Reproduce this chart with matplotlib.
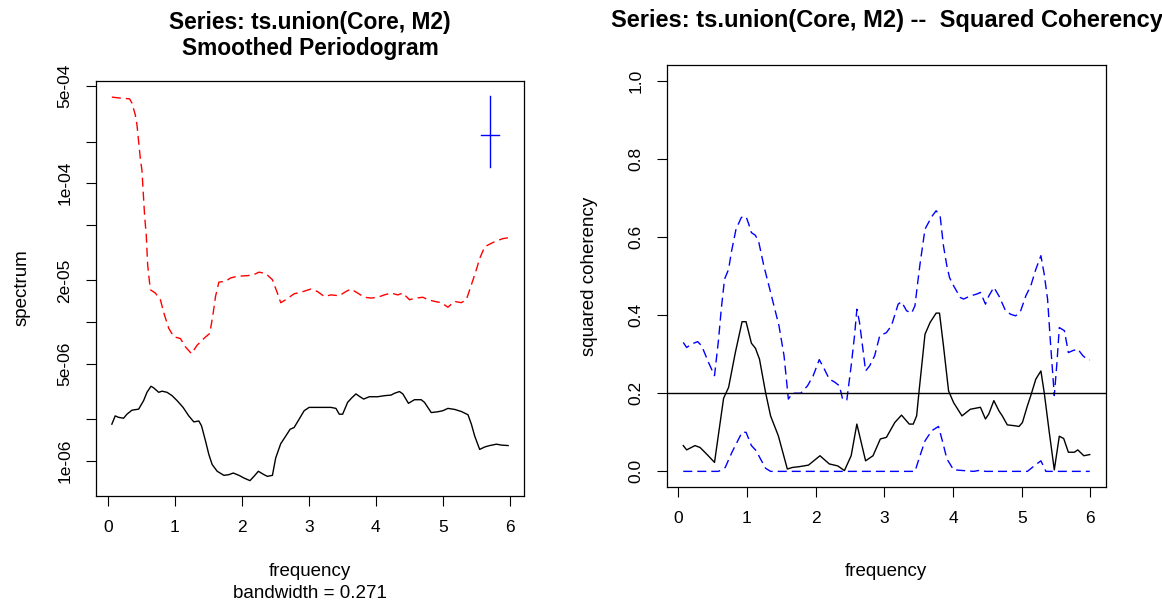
import matplotlib
matplotlib.use("Agg")
import matplotlib.pyplot as plt

plt.rcParams['font.family'] = ['Liberation Sans', 'DejaVu Sans']
plt.rcParams['lines.scale_dashes'] = False

# --- left panel: smoothed periodogram (log scale) ---
core_freq = [0.062, 0.112, 0.162, 0.237, 0.287, 0.362, 0.462, 0.536, 0.586, 0.646,
             0.686, 0.761, 0.811, 0.886, 0.961, 1.035, 1.125, 1.210, 1.285, 1.360,
             1.400, 1.460, 1.510, 1.559, 1.634, 1.734, 1.809, 1.874, 1.959, 2.033,
             2.123, 2.183, 2.248, 2.333, 2.383, 2.458, 2.507, 2.582, 2.657, 2.722,
             2.782, 2.857, 2.932, 3.006, 3.331, 3.406, 3.456, 3.506, 3.580, 3.640,
             3.705, 3.755, 3.820, 3.905, 4.029, 4.129, 4.229, 4.279, 4.354, 4.404,
             4.488, 4.578, 4.678, 4.728, 4.828, 4.928, 5.002, 5.077, 5.177, 5.277,
             5.377, 5.427, 5.477, 5.551, 5.626, 5.701, 5.801, 5.876, 5.976]
core_spec = [1.84e-6, 2.11e-6, 2.06e-6, 2.03e-6, 2.17e-6, 2.32e-6, 2.36e-6, 2.72e-6, 3.12e-6, 3.45e-6,
             3.36e-6, 3.12e-6, 3.18e-6, 3.12e-6, 2.95e-6, 2.72e-6, 2.43e-6, 2.11e-6, 1.91e-6, 1.94e-6,
             1.79e-6, 1.39e-6, 1.11e-6, 9.42e-7, 8.42e-7, 7.87e-7, 7.96e-7, 8.18e-7, 7.87e-7, 7.53e-7,
             7.21e-7, 7.74e-7, 8.42e-7, 7.96e-7, 7.74e-7, 7.87e-7, 1.05e-6, 1.33e-6, 1.51e-6, 1.69e-6,
             1.74e-6, 2.00e-6, 2.30e-6, 2.43e-6, 2.43e-6, 2.39e-6, 2.17e-6, 2.17e-6, 2.64e-6, 2.84e-6,
             3.04e-6, 2.92e-6, 2.79e-6, 2.90e-6, 2.90e-6, 2.95e-6, 2.98e-6, 3.07e-6, 3.16e-6, 3.04e-6,
             2.60e-6, 2.76e-6, 2.76e-6, 2.64e-6, 2.23e-6, 2.26e-6, 2.30e-6, 2.39e-6, 2.35e-6, 2.27e-6,
             2.15e-6, 1.84e-6, 1.51e-6, 1.21e-6, 1.26e-6, 1.29e-6, 1.32e-6, 1.30e-6, 1.29e-6]

m2_freq = [0.062, 0.187, 0.327, 0.362, 0.412, 0.437, 0.462, 0.487, 0.511, 0.536,
           0.551, 0.576, 0.596, 0.636, 0.711, 0.786, 0.846, 0.911, 0.986, 1.085,
           1.160, 1.250, 1.335, 1.435, 1.524, 1.574, 1.609, 1.659, 1.759, 1.834,
           1.934, 2.083, 2.183, 2.258, 2.358, 2.458, 2.532, 2.582, 2.657, 2.782,
           2.882, 3.031, 3.131, 3.231, 3.331, 3.456, 3.555, 3.630, 3.730, 3.830,
           3.930, 4.029, 4.129, 4.229, 4.329, 4.404, 4.503, 4.603, 4.703, 4.778,
           4.878, 4.978, 5.077, 5.177, 5.277, 5.352, 5.402, 5.452, 5.502, 5.551,
           5.626, 5.726, 5.801, 5.901, 5.976]
m2_spec = [4.18e-4, 4.11e-4, 4.06e-4, 3.78e-4, 3.11e-4, 2.63e-4, 1.99e-4, 1.51e-4, 1.24e-4, 7.71e-5,
           5.83e-5, 4.18e-5, 2.60e-5, 1.71e-5, 1.62e-5, 1.45e-5, 1.13e-5, 9.02e-6, 7.84e-6, 7.62e-6,
           6.63e-6, 5.93e-6, 6.82e-6, 7.62e-6, 8.30e-6, 1.16e-5, 1.53e-5, 1.94e-5, 1.97e-5, 2.08e-5,
           2.14e-5, 2.16e-5, 2.20e-5, 2.29e-5, 2.24e-5, 2.02e-5, 1.62e-5, 1.38e-5, 1.45e-5, 1.60e-5,
           1.64e-5, 1.73e-5, 1.66e-5, 1.53e-5, 1.57e-5, 1.55e-5, 1.66e-5, 1.73e-5, 1.62e-5, 1.51e-5,
           1.49e-5, 1.51e-5, 1.57e-5, 1.62e-5, 1.57e-5, 1.62e-5, 1.45e-5, 1.49e-5, 1.51e-5, 1.45e-5,
           1.41e-5, 1.38e-5, 1.28e-5, 1.41e-5, 1.38e-5, 1.45e-5, 1.71e-5, 2.02e-5, 2.39e-5, 2.87e-5,
           3.49e-5, 3.70e-5, 3.85e-5, 4.00e-5, 4.05e-5]

bandwidth = 0.271
ci_low, ci_mid, ci_high = 1.31e-4, 2.23e-4, 4.23e-4

spec_ticks = [1e-6, 2e-6, 5e-6, 1e-5, 2e-5, 5e-5, 1e-4, 2e-4, 5e-4]
spec_labels = ["1e-06", "", "5e-06", "", "2e-05", "", "1e-04", "", "5e-04"]

# --- right panel: squared coherency ---
coh_freq = [0.073, 0.122, 0.244, 0.318, 0.415, 0.528, 0.660, 0.733, 0.831, 0.929,
            0.987, 1.065, 1.124, 1.183, 1.271, 1.344, 1.457, 1.588, 1.662, 1.760,
            1.896, 2.063, 2.199, 2.322, 2.419, 2.517, 2.600, 2.727, 2.835, 2.942,
            3.030, 3.152, 3.250, 3.363, 3.421, 3.470, 3.509, 3.592, 3.666, 3.754,
            3.803, 3.861, 3.935, 4.008, 4.130, 4.252, 4.399, 4.472, 4.521, 4.594,
            4.668, 4.717, 4.790, 4.888, 4.961, 5.010, 5.083, 5.132, 5.205, 5.279,
            5.327, 5.401, 5.474, 5.547, 5.611, 5.679, 5.767, 5.816, 5.904, 5.990]
coh = [0.066, 0.055, 0.066, 0.061, 0.044, 0.023, 0.187, 0.215, 0.304, 0.383,
       0.383, 0.328, 0.315, 0.287, 0.202, 0.142, 0.091, 0.006, 0.010, 0.012,
       0.016, 0.040, 0.019, 0.014, 0.002, 0.040, 0.121, 0.027, 0.040, 0.083,
       0.087, 0.125, 0.144, 0.121, 0.121, 0.142, 0.211, 0.351, 0.381, 0.405,
       0.405, 0.321, 0.206, 0.176, 0.142, 0.159, 0.164, 0.134, 0.147, 0.181,
       0.155, 0.142, 0.119, 0.117, 0.115, 0.125, 0.168, 0.194, 0.236, 0.257,
       0.202, 0.100, 0.004, 0.090, 0.084, 0.049, 0.049, 0.055, 0.040, 0.043]

upper_freq = [0.073, 0.122, 0.196, 0.283, 0.342, 0.440, 0.528, 0.587, 0.626, 0.674,
              0.733, 0.772, 0.841, 0.919, 0.987, 1.026, 1.065, 1.124, 1.173, 1.246,
              1.320, 1.393, 1.466, 1.540, 1.603, 1.662, 1.784, 1.882, 1.965, 2.053,
              2.126, 2.199, 2.273, 2.346, 2.395, 2.454, 2.517, 2.566, 2.600, 2.639,
              2.688, 2.727, 2.786, 2.859, 2.933, 3.030, 3.104, 3.201, 3.250, 3.324,
              3.397, 3.446, 3.480, 3.519, 3.592, 3.690, 3.754, 3.812, 3.861, 3.910,
              3.949, 4.008, 4.106, 4.154, 4.252, 4.350, 4.399, 4.472, 4.521, 4.594,
              4.668, 4.765, 4.839, 4.912, 4.985, 5.059, 5.132, 5.205, 5.279, 5.327,
              5.376, 5.415, 5.474, 5.513, 5.547, 5.621, 5.679, 5.743, 5.816, 5.890,
              5.953, 5.990]
upper = [0.330, 0.317, 0.326, 0.332, 0.321, 0.279, 0.245, 0.338, 0.415, 0.492,
         0.517, 0.560, 0.620, 0.650, 0.652, 0.633, 0.611, 0.604, 0.586, 0.526,
         0.475, 0.424, 0.373, 0.296, 0.185, 0.200, 0.200, 0.219, 0.245, 0.286,
         0.262, 0.236, 0.229, 0.219, 0.183, 0.183, 0.270, 0.347, 0.415, 0.381,
         0.313, 0.257, 0.270, 0.296, 0.347, 0.355, 0.373, 0.428, 0.434, 0.411,
         0.405, 0.424, 0.475, 0.530, 0.620, 0.652, 0.667, 0.654, 0.577, 0.526,
         0.496, 0.475, 0.445, 0.441, 0.449, 0.454, 0.458, 0.428, 0.449, 0.471,
         0.449, 0.411, 0.402, 0.398, 0.411, 0.449, 0.475, 0.517, 0.552, 0.505,
         0.441, 0.338, 0.194, 0.279, 0.368, 0.360, 0.304, 0.309, 0.313, 0.296,
         0.287, 0.285]

lower_freq = [0.073, 0.587, 0.684, 0.782, 0.929, 0.987, 1.065, 1.134, 1.197, 1.271,
              1.344, 3.446, 3.519, 3.592, 3.690, 3.788, 3.851, 3.910, 4.008, 4.301,
              4.399, 4.472, 5.083, 5.181, 5.279, 5.352, 5.990]
lower = [0.0, 0.0, 0.010, 0.049, 0.100, 0.100, 0.066, 0.053, 0.032, 0.008,
         0.0, 0.0, 0.040, 0.078, 0.104, 0.115, 0.074, 0.032, 0.004, 0.0,
         0.003, 0.0, 0.0, 0.014, 0.027, 0.0, 0.0]

coh_level = 0.2
coh_ticks = [0.0, 0.2, 0.4, 0.6, 0.8, 1.0]
freq_ticks = [0, 1, 2, 3, 4, 5, 6]

W, H = 1162, 606
fig = plt.figure(figsize=(W / 100, H / 100), dpi=100)


def px_axes(x0, y0, x1, y1):
    return fig.add_axes([x0 / W, 1 - y1 / H, (x1 - x0) / W, (y1 - y0) / H])


dash = (0, (6.5, 3.6))
tick_kw = dict(direction='out', length=7, width=0.8, labelsize=12.5, pad=10, colors='black')


def style(ax):
    for s in ax.spines.values():
        s.set_linewidth(0.9)
        s.set_color('black')
    ax.tick_params(top=False, right=False, **tick_kw)
    ax.minorticks_off()


# left panel
ax1 = px_axes(96, 81, 524, 496)
ax1.plot(core_freq, core_spec, color='black', lw=1.0)
ax1.plot(m2_freq, m2_spec, color='red', lw=1.0, linestyle=dash)
ax1.set_yscale('log')
ax1.margins(x=0.04, y=0.04)
ci_x = max(core_freq) - bandwidth
ax1.plot([ci_x, ci_x], [ci_low, ci_high], color='blue', lw=1.0)
ax1.plot([ci_x - bandwidth / 2, ci_x + bandwidth / 2], [ci_mid, ci_mid], color='blue', lw=1.0)
style(ax1)
ax1.set_xticks(freq_ticks)
ax1.set_xticklabels([str(t) for t in freq_ticks])
ax1.set_yticks(spec_ticks)
ax1.set_yticklabels(spec_labels, rotation=90, va='center')
ax1.minorticks_off()

# right panel
ax2 = px_axes(667, 65, 1106, 487)
ax2.plot(coh_freq, coh, color='black', lw=1.0)
ax2.plot(upper_freq, upper, color='blue', lw=1.0, linestyle=dash)
ax2.plot(lower_freq, lower, color='blue', lw=1.0, linestyle=dash)
ax2.axhline(coh_level, color='black', lw=1.0)
ax2.set_ylim(-0.04, 1.04)
ax2.set_xlim(min(coh_freq) - 0.04 * (max(coh_freq) - min(coh_freq)),
             max(coh_freq) + 0.04 * (max(coh_freq) - min(coh_freq)))
style(ax2)
ax2.set_xticks(freq_ticks)
ax2.set_xticklabels([str(t) for t in freq_ticks])
ax2.set_yticks(coh_ticks)
ax2.set_yticklabels(["%.1f" % t for t in coh_ticks], rotation=90, va='center')

# titles and axis labels
fig.text(310 / W, 1 - 22 / H, "Series: ts.union(Core, M2)", ha='center', va='center',
         fontsize=16.4, fontweight='bold')
fig.text(310 / W, 1 - 49 / H, "Smoothed Periodogram", ha='center', va='center',
         fontsize=16.4, fontweight='bold')
fig.text(611 / W, 1 - 20 / H, "Series: ts.union(Core, M2) --  Squared Coherency",
         ha='left', va='center', fontsize=17, fontweight='bold')
fig.text(22 / W, 1 - 288 / H, "spectrum", rotation=90, ha='center', va='center', fontsize=13.5)
fig.text(590 / W, 1 - 276 / H, "squared coherency", rotation=90, ha='center', va='center', fontsize=13.5)
fig.text(310 / W, 1 - 572 / H, "frequency", ha='center', va='center', fontsize=13.5)
fig.text(310 / W, 1 - 593 / H, "bandwidth = %.3f" % bandwidth, ha='center', va='center', fontsize=13.5)
fig.text(886 / W, 1 - 572 / H, "frequency", ha='center', va='center', fontsize=13.5)

fig.savefig("out.png", dpi=100)
